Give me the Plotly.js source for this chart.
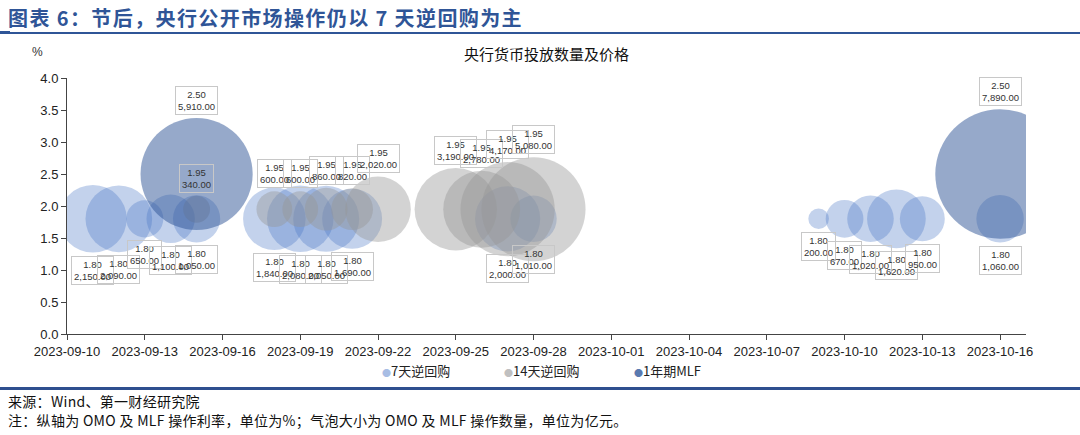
<!DOCTYPE html>
<html><head><meta charset="utf-8">
<script src="https://cdn.plot.ly/plotly-3.0.1.min.js"></script>
<style>
body{margin:0;background:#fff;}
#wrap{position:relative;width:1080px;height:435px;overflow:hidden;background:#fff;}
#chart{position:absolute;left:0;top:0;width:1080px;height:435px;}
.hdr{position:absolute;left:8px;top:3px;font-family:"Noto Sans CJK SC";font-weight:bold;font-size:20px;letter-spacing:1.4px;color:#2f5597;white-space:nowrap;}
.ft{position:absolute;left:8px;font-family:"Noto Sans CJK SC";font-size:14px;color:#111;white-space:nowrap;letter-spacing:0.3px;}
.ln{position:absolute;background:#2f5597;}
</style>
</head><body>
<div id="wrap">
<div id="chart"></div>
<div class="hdr">图表 6：节后，央行公开市场操作仍以 7 天逆回购为主</div>
<div class="ln" style="left:0;top:31px;width:10px;height:3px;"></div>
<div class="ln" style="left:10px;top:32px;width:1070px;height:1.5px;"></div>
<div class="ln" style="left:0;top:387px;width:1080px;height:3px;background:#2f4f8f;"></div>
<div class="ft" style="top:391px;">来源：Wind、第一财经研究院</div>
<div class="ft" style="top:410px;">注：纵轴为 OMO 及 MLF 操作利率，单位为%；气泡大小为 OMO 及 MLF 操作数量，单位为亿元。</div>
</div>
<script>
// ---- data ----
const seriesNames = ['7天逆回购', '14天逆回购', '1年期MLF'];
const repo7Dates = ['2023-09-11','2023-09-12','2023-09-13','2023-09-14','2023-09-15','2023-09-18','2023-09-19','2023-09-20','2023-09-21','2023-09-27','2023-09-28','2023-10-09','2023-10-10','2023-10-11','2023-10-12','2023-10-13','2023-10-16'];
const repo7Amounts = [2150,2090,650,1100,1050,1840,2080,2050,1690,2000,1010,200,670,1020,1620,950,1060];
const repo7Rates = [1.80,1.80,1.80,1.80,1.80,1.80,1.80,1.80,1.80,1.80,1.80,1.80,1.80,1.80,1.80,1.80,1.80];
const repo14Dates = ['2023-09-15','2023-09-18','2023-09-19','2023-09-20','2023-09-21','2023-09-22','2023-09-25','2023-09-26','2023-09-27','2023-09-28'];
const repo14Amounts = [340,600,600,860,820,2020,3190,2780,4170,5080];
const repo14Rates = [1.95,1.95,1.95,1.95,1.95,1.95,1.95,1.95,1.95,1.95];
const mlfDates = ['2023-09-15','2023-10-16'];
const mlfAmounts = [5910,7890];
const mlfRates = [2.50,2.50];
const yTicks = [0,0.5,1,1.5,2,2.5,3,3.5,4];

// ---- styling ----
const SIZEREF = 0.94;
const colors = ['rgba(68,114,196,0.46)','rgba(150,150,150,0.6)','rgba(47,85,151,0.72)'];
const legendColors = ['#a8bde4','#c0c0c0','#5a7ab0'];
const legendX = [380, 502, 632];   // pixel positions of legend entries
function radius(v){ return Math.sqrt(v/(2*SIZEREF)); }
function fmt(v){ return v.toLocaleString('en-US',{minimumFractionDigits:2,maximumFractionDigits:2}); }

const groups = [
  {x:repo7Dates, y:repo7Rates, s:repo7Amounts, below:true},
  {x:repo14Dates, y:repo14Rates, s:repo14Amounts, below:false},
  {x:mlfDates, y:mlfRates, s:mlfAmounts, below:false}
];

const traces = [];
groups.forEach((g,i)=>{
  traces.push({type:'scatter', mode:'markers', x:g.x, y:g.y, name:seriesNames[i], showlegend:false, hoverinfo:'skip',
    marker:{size:g.s, sizemode:'area', sizeref:SIZEREF, color:colors[i], line:{width:0}}});
});

const annotations = [];
groups.forEach((g)=>{
  g.x.forEach((d,k)=>{
    const r = radius(g.s[k]);
    annotations.push({x:d, y:g.y[k], xref:'x', yref:'y', showarrow:false,
      text: g.y[k].toFixed(2)+'<br>'+fmt(g.s[k]),
      yanchor: g.below ? 'top':'bottom', yshift: g.below ? -(r+3) : (r+3),
      font:{family:'Liberation Sans', size:9.5, color:'#333'},
      bordercolor:'#c8c8c8', borderwidth:1, borderpad:2, bgcolor:'rgba(0,0,0,0)', align:'center'});
  });
});
annotations.push({xref:'paper', yref:'paper', x:-0.031, y:1.10, text:'%', showarrow:false,
  font:{family:'Liberation Sans', size:12, color:'#333'}, xanchor:'center', yanchor:'middle'});
// legend built as text entries
seriesNames.forEach((n,i)=>{
  annotations.push({xref:'paper', yref:'paper', x:(legendX[i]-67)/959, y:(334-370)/256,
    xanchor:'left', yanchor:'middle', showarrow:false,
    text:'<span style="color:'+legendColors[i]+';font-size:9px">●</span>'+n,
    font:{family:'Noto Sans CJK SC', size:13, color:'#222'}});
});

const layout = {
  width:1080, height:435,
  margin:{l:67, r:54, t:78, b:101},
  paper_bgcolor:'rgba(0,0,0,0)', plot_bgcolor:'rgba(0,0,0,0)',
  title:{text:'央行货币投放数量及价格', x:0.5, xref:'paper', y:1-55/435, yref:'container', yanchor:'middle',
    font:{family:'Noto Sans CJK SC', size:15, color:'#111'}},
  xaxis:{type:'date', range:['2023-09-10','2023-10-17'], tick0:'2023-09-10', dtick:3*86400000,
    tickformat:'%Y-%m-%d', showgrid:false, zeroline:false, showline:true, linecolor:'#444', linewidth:1,
    ticks:'outside', ticklen:5, tickcolor:'#444',
    tickfont:{family:'Liberation Sans', size:13, color:'#222'}},
  yaxis:{range:[0,4], tickvals:yTicks, tickformat:'.1f', showgrid:false, zeroline:false,
    showline:true, linecolor:'#444', linewidth:1, ticks:'outside', ticklen:5, tickcolor:'#444',
    tickfont:{family:'Liberation Sans', size:13, color:'#222'}},
  showlegend:false,
  annotations: annotations
};
Plotly.newPlot('chart', traces, layout, {displayModeBar:false, staticPlot:true});
</script>
</body></html>
